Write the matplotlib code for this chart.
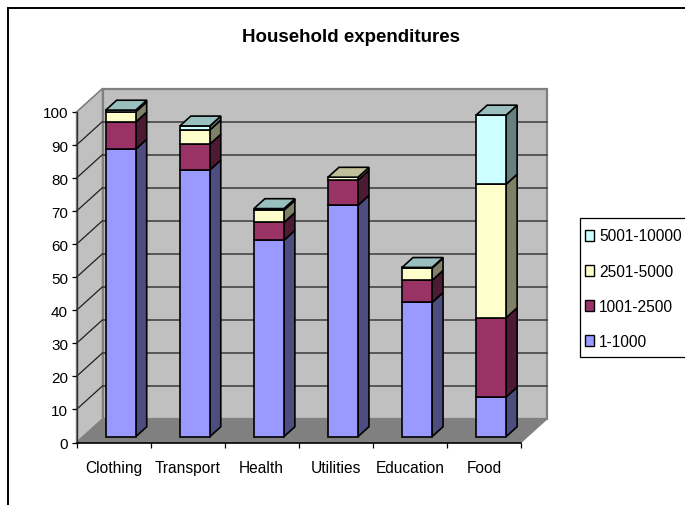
import matplotlib
matplotlib.use("Agg")
import matplotlib.pyplot as plt
from matplotlib.patches import Patch, Rectangle
from matplotlib.colors import to_rgb
from matplotlib.lines import Line2D

plt.rcParams['font.family'] = ['Liberation Sans', 'DejaVu Sans']

categories = ["Clothing", "Transport", "Health", "Utilities", "Education", "Food"]
series_names = ["1-1000", "1001-2500", "2501-5000", "5001-10000"]
s1 = [87.0, 80.7, 59.4, 70.0, 40.6, 12.0]
s2 = [8.2, 7.8, 5.4, 7.6, 6.7, 24.0]
s3 = [3.1, 4.3, 3.7, 0.9, 3.7, 40.4]
s4 = [0.5, 1.2, 0.5, 0.0, 0.2, 20.9]
series = [s1, s2, s3, s4]
colors = ["#9999FF", "#993366", "#FFFFCC", "#CCFFFF"]
yticks = list(range(0, 101, 10))

W, H = 685, 506
fig = plt.figure(figsize=(W / 100, H / 100), dpi=100)
fig.patch.set_facecolor("white")
# axes frame: front plane of the 3-D box, in pixels
L, R, T, B = 76.5, 521, 113, 443.5
ax = fig.add_axes([L / W, 1 - B / H, (R - L) / W, (B - T) / H])
ax.set_xlim(0, 6)
ax.set_ylim(0, 100)
ax.patch.set_visible(False)

# oblique depth of the box, in data units
DX = 26 / ((R - L) / 6)
DY = 23.5 / ((B - T) / 100)
D0, D1 = 0.25, 0.67      # bar front / back position in the depth
BW = 0.405
XSHIFT = 0.01


def proj(x, y, d):
    return (x + DX * d, y + DY * d)


def face(points, fc, ec="black", lw=1.2, z=1):
    ax.fill([p[0] for p in points], [p[1] for p in points], facecolor=fc,
            edgecolor=ec, linewidth=lw, zorder=z, clip_on=False, joinstyle="miter")


def shade(c, k):
    return tuple(v * k for v in to_rgb(c))


GREY = "#C0C0C0"
EDGE = "#808080"
# walls and floor
face([proj(0, 0, 0), proj(0, 100, 0), proj(0, 100, 1), proj(0, 0, 1)], GREY, EDGE, 1.0, 1)
face([proj(0, 0, 1), proj(0, 100, 1), proj(6, 100, 1), proj(6, 0, 1)], GREY, EDGE, 1.6, 1)
face([proj(0, 0, 0), proj(6, 0, 0), proj(6, 0, 1), proj(0, 0, 1)], "#808080", "#808080", 0.8, 2)

# gridlines
for v in yticks[1:]:
    p = [proj(0, v, 0), proj(0, v, 1), proj(6, v, 1)]
    col = EDGE if v == 100 else "#202020"
    ax.plot([q[0] for q in p[:2]], [q[1] for q in p[:2]], color=col, lw=0.9, zorder=2, clip_on=False)
    ax.plot([q[0] for q in p[1:]], [q[1] for q in p[1:]], color=EDGE if v == 100 else "#3a3a3a",
            lw=1.1, zorder=2, clip_on=False)

# bars, stacked
z = 3
for i in range(len(categories)):
    x0, x1 = i + 0.5 - BW / 2 + XSHIFT, i + 0.5 + BW / 2 + XSHIFT
    base = 0.0
    top_color = colors[0]
    for vals, c in zip(series, colors):
        v = vals[i]
        if v <= 0:
            continue
        top = base + v
        face([proj(x1, base, D0), proj(x1, top, D0), proj(x1, top, D1), proj(x1, base, D1)],
             shade(c, 0.5), z=z)
        face([proj(x0, base, D0), proj(x1, base, D0), proj(x1, top, D0), proj(x0, top, D0)], c, z=z + 1)
        base = top
        top_color = c
    face([proj(x0, base, D0), proj(x1, base, D0), proj(x1, base, D1), proj(x0, base, D1)],
         shade(top_color, 0.75), z=z + 2)
    z += 3

# axes, ticks and labels
for s in ("top", "right"):
    ax.spines[s].set_visible(False)
ax.spines["left"].set_color("#303030")
ax.spines["bottom"].set_color("black")
ax.spines["left"].set_linewidth(1.0)
ax.spines["bottom"].set_linewidth(1.2)
ax.spines["left"].set_zorder(50)
ax.spines["bottom"].set_zorder(50)
ax.set_yticks(yticks)
ax.set_xticks([i + 0.5 for i in range(6)])
ax.set_xticklabels(categories)
ax.set_xticks(range(7), minor=True)
ax.tick_params(axis="x", which="major", length=0, pad=12.5, labelsize=11.2, colors="black")
ax.tick_params(axis="x", which="minor", length=3.6, width=0.9, color="black")
ax.tick_params(axis="y", length=3.6, width=0.9, pad=2.5, labelsize=11.0, color="black")

fig.text(351 / W, 1 - 37.5 / H, "Household expenditures", ha="center", va="center",
         fontsize=13.5, fontweight="bold", color="black")

# legend box runs off the right edge of the picture, as in the reference
fig.add_artist(Rectangle((579.5 / W, 1 - 358 / H), 120 / W, 139 / H, transform=fig.transFigure,
                         facecolor="white", edgecolor="black", linewidth=0.9))
handles = [Patch(facecolor=c, edgecolor="black", linewidth=1.0, label=n)
           for n, c in zip(series_names[::-1], colors[::-1])]
leg = fig.legend(handles=handles, loc="upper left",
                 bbox_to_anchor=(585 / W, 1 - 229.5 / H), bbox_transform=fig.transFigure,
                 borderaxespad=0, borderpad=0, frameon=False, fontsize=11.2,
                 handlelength=0.58, handleheight=0.7, handletextpad=0.33, labelspacing=1.3)

# outer frame of the picture
fig.add_artist(Line2D([8 / W, 8 / W, 1], [0, 1 - 8.5 / H, 1 - 8.5 / H], color="black", lw=1.4,
                      transform=fig.transFigure, solid_joinstyle="miter"))

fig.savefig("out.png", dpi=100)
